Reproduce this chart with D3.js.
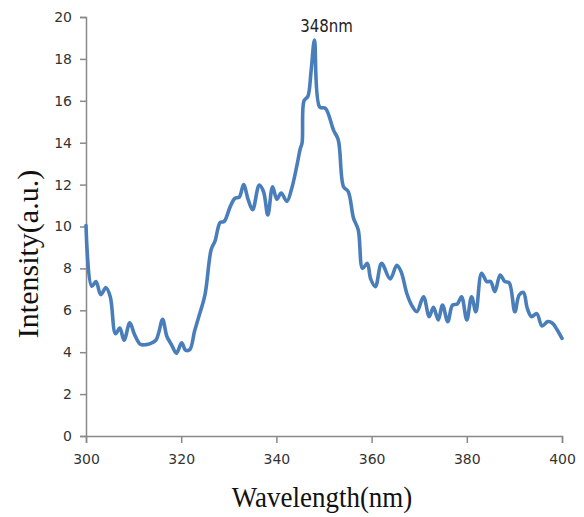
<!DOCTYPE html>
<html>
<head>
<meta charset="utf-8">
<script src="https://cdn.jsdelivr.net/npm/d3@7"></script>
<style>
  html, body { margin: 0; padding: 0; background: #fff; }
  svg { display: block; }
</style>
</head>
<body>
<svg id="chart" width="584" height="517"></svg>
<script>
// Emission spectrum: wavelength (nm) and intensity (a.u.)
const wavelength = [
  300.0, 301.2, 302.1, 303.1, 304.2, 305.1, 306.2, 307.1, 308.0, 309.2,
  310.2, 311.4, 312.6, 313.6, 314.7, 315.3, 316.1, 317.0, 318.0, 319.0,
  320.1, 320.9, 321.8, 322.8, 323.6, 325.0, 326.3, 327.1, 328.2, 329.0,
  330.3, 331.3, 332.2, 333.1, 334.1, 335.0, 336.4, 337.3, 338.2, 339.2,
  340.1, 341.0, 342.2, 343.2, 344.3, 345.0, 345.4, 345.8, 346.6, 347.3,
  348.0, 349.1, 350.3, 352.0, 353.0, 354.1, 355.1, 356.2, 357.2, 358.1,
  359.1, 359.8, 360.8, 362.1, 363.9, 365.3, 366.2, 367.4, 368.4, 369.5,
  370.9, 372.1, 373.0, 374.0, 374.9, 376.0, 377.0, 378.0, 378.9, 380.0,
  381.0, 381.9, 383.1, 384.2, 385.0, 385.9, 387.0, 388.0, 388.9, 390.1,
  391.0, 391.9, 392.7, 393.6, 394.7, 395.8, 397.0, 398.0, 398.9, 400.0
];
const intensity = [
  10.05, 7.15, 7.37, 6.75, 7.08, 6.65, 4.88, 5.15, 4.57, 5.40,
  4.84, 4.38, 4.36, 4.42, 4.58, 4.95, 5.57, 4.75, 4.34, 3.95,
  4.45, 4.10, 4.12, 5.00, 5.62, 6.75, 8.90, 9.30, 10.20, 10.23,
  10.95, 11.35, 11.40, 12.00, 11.26, 10.80, 11.98, 11.66, 10.55, 11.90,
  11.30, 11.60, 11.20, 11.80, 12.90, 13.70, 14.00, 16.00, 16.20, 17.45,
  18.90, 15.70, 15.64, 14.60, 14.13, 11.90, 11.66, 10.40, 9.83, 8.00,
  8.24, 7.50, 7.13, 8.24, 7.50, 8.15, 7.84, 6.80, 6.25, 5.93,
  6.65, 5.70, 6.14, 5.54, 6.25, 5.46, 6.25, 6.30, 6.65, 5.54,
  6.65, 5.93, 7.77, 7.37, 7.37, 6.89, 7.68, 7.37, 7.32, 5.93,
  6.73, 6.85, 6.10, 5.70, 5.84, 5.25, 5.46, 5.38, 5.10, 4.66
];

const xTicks = [300, 320, 340, 360, 380, 400];
const yTicks = [0, 2, 4, 6, 8, 10, 12, 14, 16, 18, 20];
const peakLabel = ["348nm"];
const peakWavelength = [348];

const svg = d3.select("#chart");
const axisColor = "#898989";
const labelFont = "'DejaVu Sans', sans-serif";

const x = d3.scaleLinear().domain([300, 400]).range([86, 562]);
const y = d3.scaleLinear().domain([0, 20]).range([436, 17]);

// Y axis
const yAxis = svg.append("g")
  .attr("transform", "translate(86,0)")
  .call(d3.axisLeft(y).tickValues(yTicks).tickSize(6).tickPadding(8).tickFormat(d3.format("d")));
// X axis
const xAxis = svg.append("g")
  .attr("transform", "translate(0,436)")
  .call(d3.axisBottom(x).tickValues(xTicks).tickSize(7).tickPadding(11).tickFormat(d3.format("d")));

[yAxis, xAxis].forEach(g => {
  g.select(".domain").attr("stroke", axisColor).attr("stroke-width", 1.5);
  g.selectAll(".tick line").attr("stroke", axisColor).attr("stroke-width", 1.5);
  g.selectAll(".tick text")
    .attr("fill", "#333")
    .style("font-family", labelFont)
    .style("font-size", "14px");
});

// Spectrum line
const pts = wavelength.map((w, i) => [w, intensity[i]]);
const line = d3.line()
  .x(d => x(d[0]))
  .y(d => y(d[1]))
  .curve(d3.curveCatmullRom.alpha(0.5));

svg.append("path")
  .datum(pts)
  .attr("d", line)
  .attr("fill", "none")
  .attr("stroke", "#4a7ebb")
  .attr("stroke-width", 3.6)
  .attr("stroke-linejoin", "round")
  .attr("stroke-linecap", "round");

// Peak annotation
const peakIdx = d3.maxIndex(intensity);
svg.append("text")
  .attr("transform", `translate(${x(peakWavelength[0]) + 12},${y(intensity[peakIdx]) - 8}) scale(1,1.2)`)
  .attr("text-anchor", "middle")
  .attr("fill", "#222")
  .style("font-family", labelFont)
  .style("font-size", "15px")
  .text(peakLabel[0]);

// Axis titles
svg.append("text")
  .attr("transform", "translate(322,507) scale(1,1.12)")
  .attr("text-anchor", "middle")
  .attr("fill", "#111")
  .style("font-family", "'Liberation Serif', 'Times New Roman', serif")
  .style("font-size", "27px")
  .text("Wavelength(nm)");

svg.append("text")
  .attr("transform", "translate(38,254) rotate(-90)")
  .attr("text-anchor", "middle")
  .attr("fill", "#111")
  .style("font-family", "'Liberation Serif', 'Times New Roman', serif")
  .style("font-size", "30px")
  .text("Intensity(a.u.)");
</script>
</body>
</html>
